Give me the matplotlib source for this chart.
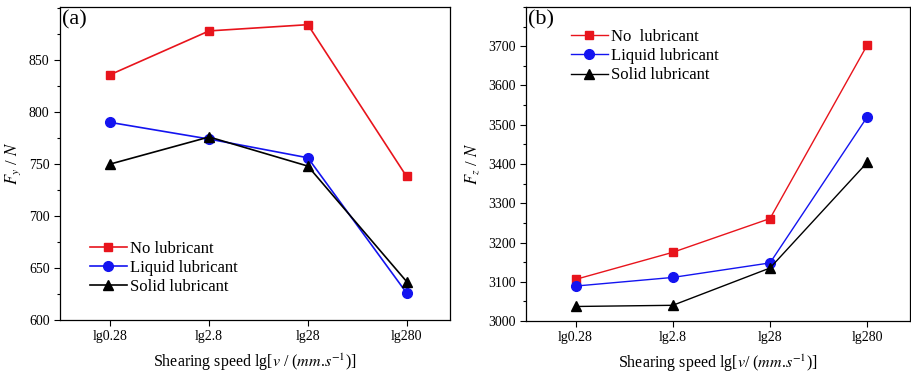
import matplotlib
matplotlib.use("Agg")
import matplotlib.pyplot as plt
from matplotlib.ticker import MultipleLocator

plt.rcParams['font.family'] = ['Liberation Serif', 'DejaVu Serif']
plt.rcParams['mathtext.fontset'] = 'stix'

categories = ['lg0.28', 'lg2.8', 'lg28', 'lg280']
series_names_a = ['No lubricant', 'Liquid lubricant', 'Solid lubricant']
series_names_b = ['No  lubricant', 'Liquid lubricant', 'Solid lubricant']

fy_no = [836, 878, 884, 738]
fy_liquid = [790, 774, 756, 626]
fy_solid = [750, 776, 748, 637]

fz_no = [3106, 3175, 3261, 3703]
fz_liquid = [3089, 3111, 3148, 3520]
fz_solid = [3037, 3040, 3135, 3404]

colors = ['#e8141c', '#1414f0', '#000000']
markers = ['s', 'o', '^']
msizes = [6, 7, 7]

fig = plt.figure(figsize=(9.11, 3.74), dpi=100)
ax1 = fig.add_axes([0.0659, 0.1444, 0.4281, 0.8369])
ax2 = fig.add_axes([0.5774, 0.1417, 0.4215, 0.8396])

x = list(range(len(categories)))

def style(ax):
    ax.set_xticks(x)
    ax.set_xticklabels(categories)
    ax.tick_params(axis='both', direction='out', labelsize=10, length=4, width=0.8)
    ax.tick_params(axis='y', which='minor', direction='out', length=2.5, width=0.8)
    ax.tick_params(axis='x', which='both', top=False)
    ax.tick_params(axis='y', which='both', right=False)
    for s in ax.spines.values():
        s.set_linewidth(0.9)
    ax.set_xlim(-0.51, 3.44)

for vals, name, c, m, ms in zip([fy_no, fy_liquid, fy_solid], series_names_a, colors, markers, msizes):
    ax1.plot(x, vals, color=c, marker=m, markersize=ms, linewidth=1.2, label=name)
style(ax1)
ax1.set_ylim(600, 901)
ax1.set_yticks([600, 650, 700, 750, 800, 850])
ax1.yaxis.set_minor_locator(MultipleLocator(25))
ax1.set_ylabel(r'$F_y$ / $N$', fontsize=12, labelpad=4)
ax1.set_xlabel(r'Shearing speed lg[$v$ / ($mm$.$s^{-1}$)]', fontsize=11.5, labelpad=6)
ax1.text(0.005, 0.99, '(a)', transform=ax1.transAxes, fontsize=16, va='top', ha='left')
ax1.legend(loc='lower left', bbox_to_anchor=(0.06, 0.058), frameon=False, fontsize=12,
           handlelength=2.2, handletextpad=0.2, labelspacing=0.2, borderaxespad=0)

for vals, name, c, m, ms in zip([fz_no, fz_liquid, fz_solid], series_names_b, colors, markers, msizes):
    ax2.plot(x, vals, color=c, marker=m, markersize=ms, linewidth=1.0, label=name)
style(ax2)
ax2.set_ylim(3000, 3800)
ax2.set_yticks([3000, 3100, 3200, 3300, 3400, 3500, 3600, 3700])
ax2.yaxis.set_minor_locator(MultipleLocator(50))
ax2.set_ylabel(r'$F_z$ / $N$', fontsize=12, labelpad=4)
ax2.set_xlabel(r'Shearing speed lg[$v$/ ($mm$.$s^{-1}$)]', fontsize=11.5, labelpad=6)
ax2.text(0.005, 0.99, '(b)', transform=ax2.transAxes, fontsize=16, va='top', ha='left')
ax2.legend(loc='upper left', bbox_to_anchor=(0.10, 0.952), frameon=False, fontsize=12,
           handlelength=2.2, handletextpad=0.2, labelspacing=0.2, borderaxespad=0)

fig.savefig('out.png', dpi=100)
